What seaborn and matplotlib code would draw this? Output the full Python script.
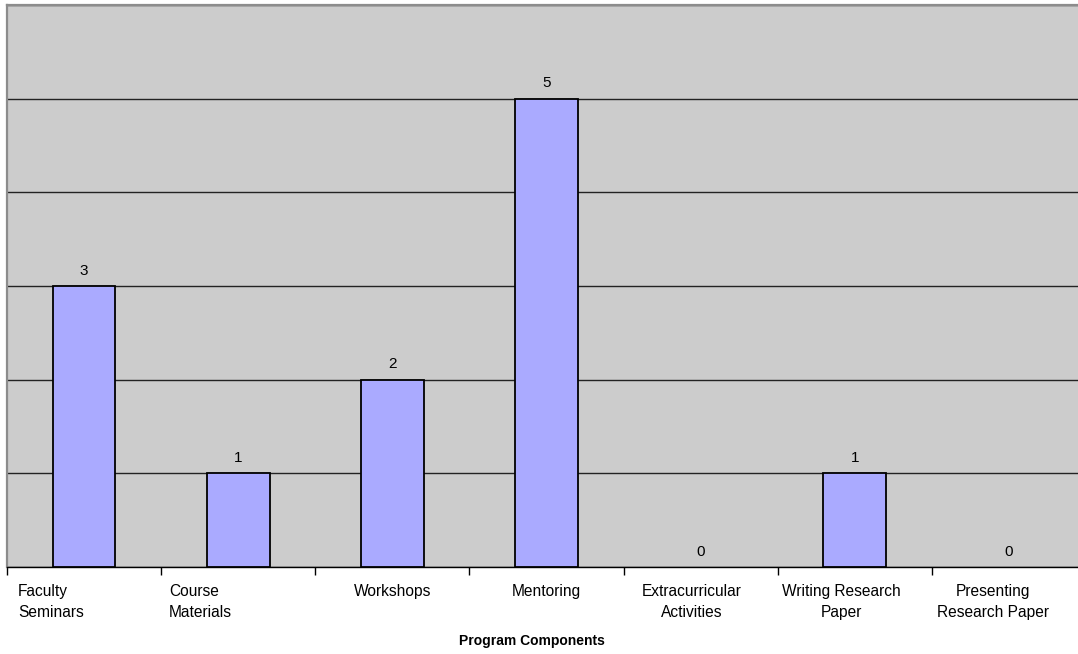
import matplotlib
matplotlib.use("Agg")
import matplotlib.pyplot as plt
import matplotlib.transforms as mtransforms
import seaborn as sns
import pandas as pd

categories = [
    "Faculty\nSeminars",
    "Course\nMaterials",
    "Workshops",
    "Mentoring",
    "Extracurricular\nActivities",
    "Writing Research\nPaper",
    "Presenting\nResearch Paper",
]
counts = [3, 1, 2, 5, 0, 1, 0]
x_title = "Program Components"

sns.set_theme(style="white")
plt.rcParams["font.family"] = ["Liberation Sans", "DejaVu Sans"]
plt.rcParams["text.color"] = "black"
plt.rcParams["xtick.color"] = "black"

df = pd.DataFrame({"component": categories, "count": counts})

W, H = 1078, 654
fig = plt.figure(figsize=(W / 100, H / 100), dpi=100)
fig.patch.set_facecolor("white")
ax = fig.add_axes([7 / W, 87 / H, 1079 / W, 562 / H])
ax.set_facecolor("#CCCCCC")

sns.barplot(data=df, x="component", y="count", color="#AAAAFF", saturation=1,
            width=0.406, edgecolor="black", linewidth=1.3, ax=ax, zorder=3)

# empty bars leave no outline on the baseline
for patch, v in zip(ax.patches, counts):
    if v == 0:
        patch.set_edgecolor("none")

ax.set_xlim(-0.5, len(categories) - 0.5)
ax.set_ylim(0, 6)
ax.set_yticks(range(0, 7))
ax.yaxis.grid(True, color="#222222", linewidth=1, zorder=1)
ax.tick_params(axis="y", left=False, labelleft=False)
ax.set_ylabel("")
ax.set_xlabel("")

for c in ax.containers:
    ax.bar_label(c, labels=[str(v) for v in counts], padding=6, fontsize=11,
                 color="black")

# category boundaries carry the tick marks; labels sit at the centres
ax.set_xticks([i - 0.5 for i in range(len(categories) + 1)], minor=True)
ax.tick_params(axis="x", which="minor", length=6, width=1, color="black",
               bottom=True, direction="out")
ax.tick_params(axis="x", which="major", length=0, pad=12, labelsize=11.2,
               labelcolor="black")

offsets = [(-66, "left"), (-69, "left"), (0, "center"), (0, "center"),
           (-9, "center"), (-13, "center"), (-16, "center")]
for lab, (dx, ha) in zip(ax.get_xticklabels(), offsets):
    lab.set_ha(ha)
    lab.set_multialignment(ha)
    lab.set_linespacing(1.55)
    lab.set_transform(lab.get_transform() +
                      mtransforms.ScaledTranslation(dx / 100, 0, fig.dpi_scale_trans))

for side in ["left", "top"]:
    ax.spines[side].set_color("#8C8C8C")
    ax.spines[side].set_linewidth(1.6)
ax.spines["right"].set_visible(False)
ax.spines["bottom"].set_color("black")
ax.spines["bottom"].set_linewidth(1)

fig.text(532 / W, 1 - 641 / H, x_title, ha="center", va="center",
         fontsize=10, fontweight="bold", color="black")

fig.savefig("out.png", dpi=100)
